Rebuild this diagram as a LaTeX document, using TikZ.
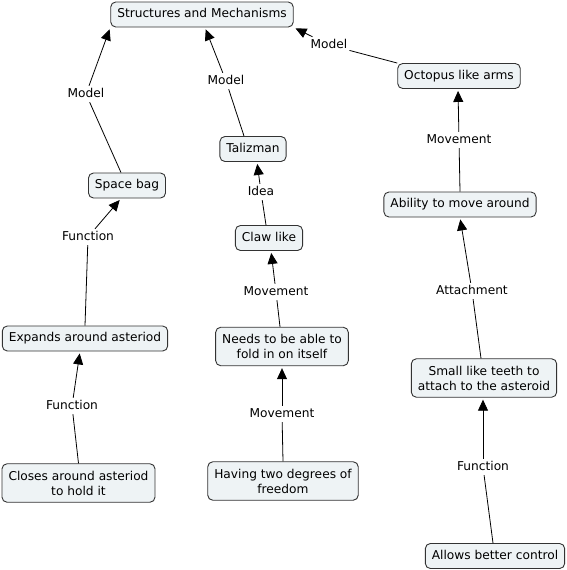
\documentclass[tikz,border=0pt]{standalone}
\usepackage{fontspec}
\setmainfont{DejaVu Sans}
\usetikzlibrary{arrows.meta}
\definecolor{boxfill}{HTML}{EEF3F5}
\definecolor{boxline}{HTML}{333333}
\tikzset{
  concept/.style={draw=boxline, fill=boxfill, rounded corners=5pt, line width=0.9pt,
    inner xsep=6.5pt, inner ysep=6.5pt, text height=9pt, text depth=3pt, align=center,
    font=\fontsize{12.2}{15}\selectfont},
  concept2/.style={concept, text height=, text depth=, inner ysep=7pt},
  lab/.style={inner sep=2pt, font=\fontsize{12.2}{15}\selectfont, text height=9pt, text depth=3pt},
  link/.style={draw=black, line width=0.8pt},
  arr/.style={link, -{Triangle[length=11pt,width=10pt]}, shorten >=2pt}
}
\begin{document}
\begin{tikzpicture}[x=1pt,y=-1pt]
\useasboundingbox (0,0) rectangle (567,570);
% concepts
\node[concept] (sm) at (202,14.5) {Structures and Mechanisms};
\node[concept] (oct) at (459,76) {Octopus like arms};
\node[concept] (tal) at (253,149) {Talizman};
\node[concept] (bag) at (127,185.5) {Space bag};
\node[concept] (claw) at (269,238) {Claw like};
\node[concept] (abil) at (460,204.5) {Ability to move around};
\node[concept] (exp) at (85,338.5) {Expands around asteriod};
\node[concept2] (needs) at (282,346.5) {Needs to be able to\\fold in on itself};
\node[concept2] (teeth) at (484,378) {Small like teeth to\\attach to the asteroid};
\node[concept2] (close) at (78.5,483) {Closes around asteriod\\to hold it};
\node[concept2] (two) at (283,481) {Having two degrees of\\freedom};
\node[concept] (allow) at (495,556) {Allows better control};
% labels
\node[lab] (l1) at (86,94) {Model};
\node[lab] (l2) at (226,81) {Model};
\node[lab] (l3) at (329,45) {Model};
\node[lab] (l4) at (459,140) {Movement};
\node[lab] (l5) at (261,192) {Idea};
\node[lab] (l6) at (88,237) {Function};
\node[lab] (l7) at (276,292) {Movement};
\node[lab] (l8) at (472,291) {Attachment};
\node[lab] (l9) at (72,406) {Function};
\node[lab] (l10) at (282,414) {Movement};
\node[lab] (l11) at (483,467) {Function};
% connectors
\draw[link] ([xshift=-6pt]bag.north) -- (l1);
\draw[arr] (l1) -- (sm.south west);
\draw[link] ([xshift=-9pt]tal.north) -- (l2);
\draw[arr] (l2) -- ([xshift=3pt]sm.south);
\draw[link] (oct.north west) -- (l3);
\draw[arr] (l3) -- (sm.south east);
\draw[link] (abil.north) -- (l4);
\draw[arr] (l4) -- ([xshift=-1pt]oct.south);
\draw[link] ([xshift=-3pt]claw.north) -- (l5);
\draw[arr] (l5) -- ([xshift=4pt]tal.south);
\draw[link] (exp.north) -- (l6);
\draw[arr] (l6) -- ([xshift=-6pt]bag.south);
\draw[link] ([xshift=-2pt]needs.north) -- (l7);
\draw[arr] (l7) -- ([xshift=2pt]claw.south);
\draw[link] ([xshift=-3pt]teeth.north) -- (l8);
\draw[arr] (l8) -- (abil.south);
\draw[link] (close.north) -- (l9);
\draw[arr] (l9) -- ([xshift=-5pt]exp.south);
\draw[link] (two.north) -- (l10);
\draw[arr] (l10) -- (needs.south);
\draw[link] ([xshift=-2pt]allow.north) -- (l11);
\draw[arr] (l11) -- ([xshift=-1pt]teeth.south);
\end{tikzpicture}
\end{document}
